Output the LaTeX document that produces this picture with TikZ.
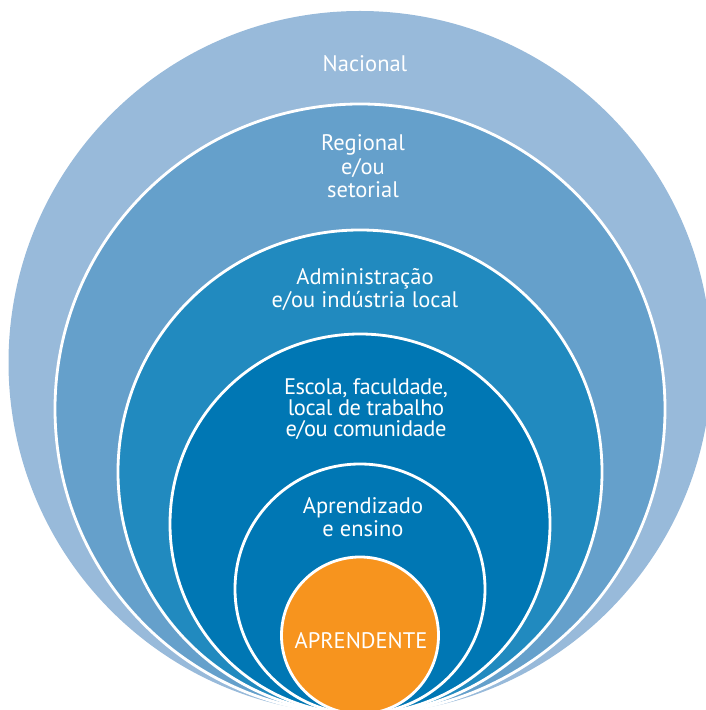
\documentclass[tikz,border=0pt]{standalone}
\usepackage{fontspec}
\setmainfont{PT Sans}
\usepackage{tikz}
\definecolor{nacional}{HTML}{98BADA}
\definecolor{regional}{HTML}{65A0CB}
\definecolor{local}{HTML}{218ABF}
\definecolor{escola}{HTML}{0077B4}
\definecolor{aprendente}{HTML}{F7941E}
\tikzset{
  ring/.style={fill=#1, draw=white, line width=2pt},
  level/.style={text=white, align=center, anchor=base, inner sep=0pt,
    font=\fontsize{16}{17}\selectfont},
  tight/.style={font=\fontsize{16}{15}\selectfont\addfontfeatures{LetterSpace=-2}}
}

\begin{document}
\begin{tikzpicture}[x=0.25mm, y=0.25mm]
      \useasboundingbox (0, 0) rectangle (706, 710);
      \fill[nacional] (360, 347.5) circle (351.5);
      \filldraw[ring=regional] (360, 301) circle (305);
      \filldraw[ring=local] (360, 238) circle (242);
      \filldraw[ring=escola] (360, 186) circle (190);
      \filldraw[ring=escola] (360, 121) circle (125);
      \filldraw[ring=aprendente] (360, 74.5) circle (78.5);
      % texts, placed at the baseline of their last line
      \node[level] (nac) at (365, 638) {Nacional};
      \node[level] (reg) at (363, 512) {Regional\\e/ou\\setorial};
      \node[level] (adm) at (365, 402) {Administração\\e/ou indústria local};
      \node[level, tight] (esc) at (366, 273) {Escola, faculdade,\\local de trabalho\\e/ou comunidade};
      \node[level] (apr) at (363, 173) {Aprendizado\\e ensino};
      \node[level] (apt) at (361, 61) {APRENDENTE};
    \end{tikzpicture}
\end{document}
